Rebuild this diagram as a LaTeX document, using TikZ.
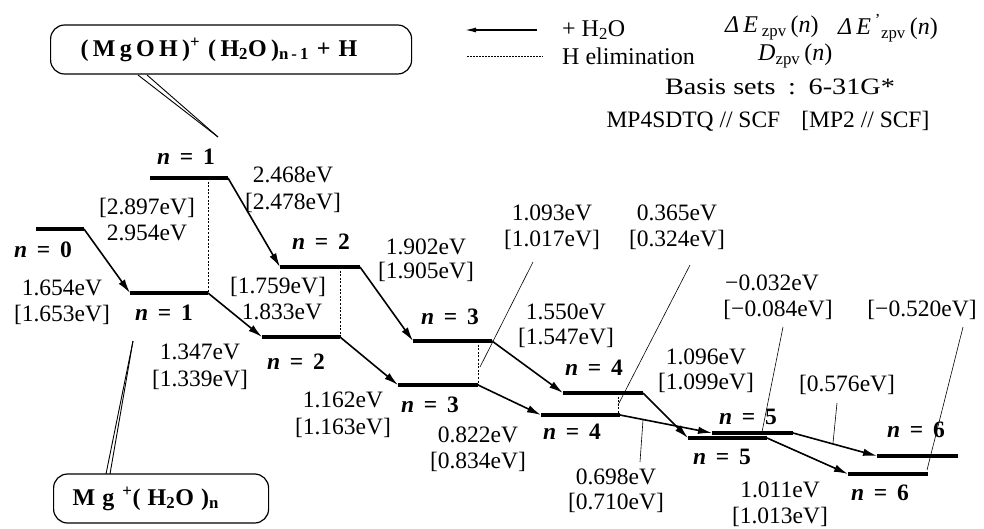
\documentclass[tikz,border=0pt]{standalone}
\usepackage{fontspec}
\setmainfont{Liberation Serif}
\newfontfamily\boxfont[LetterSpace=18]{Liberation Serif}
\newfontfamily\boxfontwide[LetterSpace=30]{Liberation Serif}
\usetikzlibrary{arrows.meta}
% level label "n = k"
\newcommand\nlab[1]{\textbf{\textit{n}}\hspace{0.42em}\textbf{=}\hspace{0.42em}\textbf{#1}}
\begin{document}
\begin{tikzpicture}[x=1pt,y=-1pt,
  level/.style={line width=3.8pt},
  addarrow/.style={line width=1.6pt,-{Latex[length=14pt,width=7.5pt]}},
  elim/.style={line width=0.9pt,dash pattern=on 2pt off 1.6pt},
  leader/.style={line width=0.6pt},
  callout/.style={line width=0.9pt},
  lbl/.style={font=\fontsize{23.5}{26}\selectfont,inner sep=0pt},
  nlbl/.style={font=\fontsize{23.5}{26}\selectfont,inner sep=0pt},
  legtxt/.style={font=\fontsize{24}{26}\selectfont,inner sep=0pt,anchor=west},
  speciesbox/.style={draw,line width=1.2pt,rounded corners=14pt,
    font=\bfseries\fontsize{24}{26}\selectfont,align=left,
    minimum height=49pt}
]
\useasboundingbox (0,0) rectangle (984,528);

% ---------- species boxes ----------
\node[speciesbox,anchor=west,inner xsep=30pt,text width=301pt] (hbox) at (50,49.5)
  {\boxfont\bfseries (MgOH)\textsuperscript{+} (H\textsubscript{2}O)\textsubscript{n-1} + H};
\node[speciesbox,anchor=west,inner xsep=19pt,text width=177pt] (mgbox) at (53,498.5)
  {\boxfontwide\bfseries Mg \textsuperscript{+}(H\textsubscript{2}O)\textsubscript{n}};

% ---------- energy levels: Mg+(H2O)n ----------
\coordinate (L0a) at (36,229);  \coordinate (L0b) at (84,229);
\coordinate (L1a) at (130,293); \coordinate (L1b) at (208,293);
\coordinate (L2a) at (262,337); \coordinate (L2b) at (340,337);
\coordinate (L3a) at (398,385); \coordinate (L3b) at (478,385);
\coordinate (L4a) at (541,415); \coordinate (L4b) at (620,415);
\coordinate (L5a) at (712,433); \coordinate (L5b) at (793,433);
\coordinate (L6a) at (877,456); \coordinate (L6b) at (958,456);
% ---------- energy levels: (MgOH)+(H2O)n-1 + H ----------
\coordinate (H1a) at (150,178); \coordinate (H1b) at (228,178);
\coordinate (H2a) at (280,267); \coordinate (H2b) at (360,267);
\coordinate (H3a) at (413,341); \coordinate (H3b) at (492,341);
\coordinate (H4a) at (563,393); \coordinate (H4b) at (643,393);
\coordinate (H5a) at (688,438); \coordinate (H5b) at (767,438);
\coordinate (H6a) at (848,474); \coordinate (H6b) at (928,474);

\foreach \p in {L0,L1,L2,L3,L4,L5,L6,H1,H2,H3,H4,H5,H6}
  \draw[level] (\p a) -- (\p b);

% ---------- hydration steps ----------
\draw[addarrow] (L0b) -- (L1a);
\draw[addarrow] (L1b) -- (L2a);
\draw[addarrow] (L2b) -- (L3a);
\draw[addarrow] (L3b) -- (L4a);
\draw[addarrow] (L4b) -- (L5a);
\draw[addarrow] (L5b) -- (L6a);
\draw[addarrow] (H1b) -- (H2a);
\draw[addarrow] (H2b) -- (H3a);
\draw[addarrow] (H3b) -- (H4a);
\draw[addarrow] (H4b) -- (H5a);
\draw[addarrow] (H5b) -- (H6a);

% ---------- H elimination ----------
\coordinate (E1) at (208,178);
\coordinate (E2) at (340,267);
\coordinate (E3) at (478,341);
\coordinate (E4t) at (618,393); \coordinate (E4b) at (618,415);
\draw[elim] (E1) -- (L1b);
\draw[elim] (E2) -- (L2b);
\draw[elim] (E3) -- (L3b);
\draw[elim] (E4t) -- (E4b);

% ---------- callouts from the boxes ----------
\coordinate (hc1) at (138,75); \coordinate (hc2) at (147,75); \coordinate (hcTip) at (218,137);
\draw[callout] (hc1) -- (hcTip);
\draw[callout] (hc2) -- (hcTip);
\coordinate (mc1) at (106,474); \coordinate (mc2) at (110,474); \coordinate (mcTip) at (133,341);
\draw[callout] (mc1) -- (mcTip);
\draw[callout] (mc2) -- (mcTip);

% ---------- level labels ----------
\node[nlbl] (n0)  at (43,250)  {\nlab{0}};
\node[nlbl] (n1l) at (164,313) {\nlab{1}};
\node[nlbl] (n1u) at (186,157) {\nlab{1}};
\node[nlbl] (n2u) at (321,242) {\nlab{2}};
\node[nlbl] (n2l) at (296,362) {\nlab{2}};
\node[nlbl] (n3u) at (450,317) {\nlab{3}};
\node[nlbl] (n3l) at (430,405) {\nlab{3}};
\node[nlbl] (n4u) at (594,368) {\nlab{4}};
\node[nlbl] (n4l) at (572,432) {\nlab{4}};
\node[nlbl] (n5u) at (748,417) {\nlab{5}};
\node[nlbl] (n5l) at (722,457) {\nlab{5}};
\node[nlbl] (n6u) at (916,430) {\nlab{6}};
\node[nlbl] (n6l) at (880,493) {\nlab{6}};

% ---------- energies ----------
\node[lbl] (e01a) at (62,288)  {1.654eV};
\node[lbl] (e01b) at (62,315)  {[1.653eV]};
\node[lbl] (d1b)  at (147,208) {[2.897eV]};
\node[lbl] (d1a)  at (147,233) {2.954eV};
\node[lbl] (h12a) at (293,175) {2.468eV};
\node[lbl] (h12b) at (293,203) {[2.478eV]};
\node[lbl] (d2b)  at (278,287) {[1.759eV]};
\node[lbl] (d2a)  at (282,312) {1.833eV};
\node[lbl] (e12a) at (200,352) {1.347eV};
\node[lbl] (e12b) at (200,380) {[1.339eV]};
\node[lbl] (h23a) at (426,247) {1.902eV};
\node[lbl] (h23b) at (426,272) {[1.905eV]};
\node[lbl] (e23a) at (343,400) {1.162eV};
\node[lbl] (e23b) at (343,428) {[1.163eV]};
\node[lbl] (d3a)  at (552,213) {1.093eV};
\node[lbl] (d3b)  at (552,240) {[1.017eV]};
\node[lbl] (d4a)  at (677,213) {0.365eV};
\node[lbl] (d4b)  at (677,240) {[0.324eV]};
\node[lbl] (h34a) at (566,312) {1.550eV};
\node[lbl] (h34b) at (566,338) {[1.547eV]};
\node[lbl] (e34a) at (478,435) {0.822eV};
\node[lbl] (e34b) at (478,462) {[0.834eV]};
\node[lbl] (e45a) at (616,477) {0.698eV};
\node[lbl] (e45b) at (616,503) {[0.710eV]};
\node[lbl] (d5a)  at (772,283) {−0.032eV};
\node[lbl] (d5b)  at (778,310) {[−0.084eV]};
\node[lbl] (d6b)  at (922,310) {[−0.520eV]};
\node[lbl] (h45a) at (706,357) {1.096eV};
\node[lbl] (h45b) at (706,383) {[1.099eV]};
\node[lbl] (e56b) at (847,385) {[0.576eV]};
\node[lbl] (h56a) at (780,490) {1.011eV};
\node[lbl] (h56b) at (780,517) {[1.013eV]};

% ---------- leader lines ----------
\coordinate (k3a) at (533,262); \coordinate (k3b) at (480,367);
\coordinate (k4a) at (690,265); \coordinate (k4b) at (618,405);
\coordinate (k5a) at (783,327); \coordinate (k5b) at (762,432);
\coordinate (k6a) at (963,327); \coordinate (k6b) at (927,470);
\coordinate (k7a) at (837,403); \coordinate (k7b) at (833,443);
\coordinate (k8a) at (640,462); \coordinate (k8b) at (643,420);
\foreach \k in {3,...,8} \draw[leader] (k\k a) -- (k\k b);

% ---------- legend ----------
\coordinate (legA) at (537,30); \coordinate (legB) at (465,30);
\draw[line width=1.3pt,-{Latex[length=11pt,width=5pt]}] (legA) -- (legB);
\coordinate (legC) at (467,56); \coordinate (legD) at (543,56);
\draw[line width=0.9pt,dash pattern=on 1.5pt off 1.5pt] (legC) -- (legD);
\node[legtxt] (leg1) at (562,30) {+ H\textsubscript{2}O};
\node[legtxt] (leg2) at (562,56) {H elimination};
\node[legtxt] (leg3) at (725,28) {\textit{Δ}\,\textit{E}\,\textsubscript{zpv}\,(\textit{n})};
\node[legtxt] (leg4) at (838,28) {\textit{Δ}\,\textit{E}\,\textsuperscript{'}\textsubscript{zpv}\,(\textit{n})};
\node[legtxt] (leg5) at (758,56) {\textit{D}\textsubscript{zpv}\,(\textit{n})};
\node[lbl] (basis) at (780,87) {\scalebox{1.2}[1]{Basis sets\hspace{0.45em}:\hspace{0.45em}6-31G*}};
\node[lbl] (method) at (768,121) {MP4SDTQ // SCF\hspace{0.9em}[MP2 // SCF]};
\end{tikzpicture}
\end{document}
